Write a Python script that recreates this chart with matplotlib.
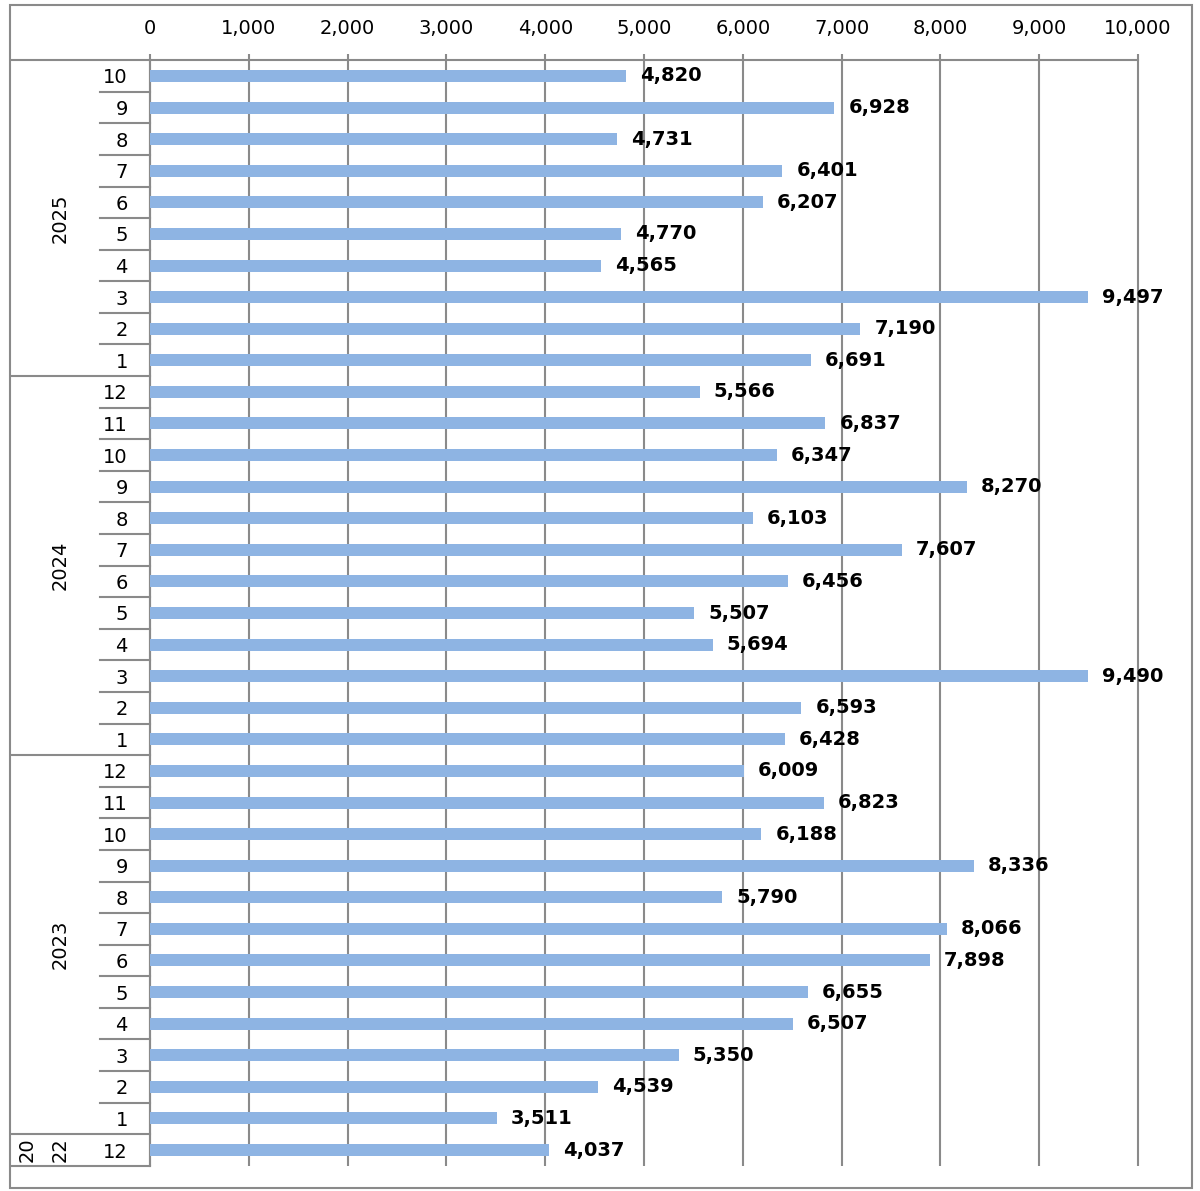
import matplotlib.pyplot as plt
from matplotlib.patches import Rectangle

# months, oldest first (bottom of chart)
years = ['2022', '2023', '2024', '2025']
months_2022 = [12]
months_2023 = list(range(1, 13))
months_2024 = list(range(1, 13))
months_2025 = list(range(1, 11))

vals_2022 = [4037]
vals_2023 = [3511, 4539, 5350, 6507, 6655, 7898, 8066, 5790, 8336, 6188, 6823, 6009]
vals_2024 = [6428, 6593, 9490, 5694, 5507, 6456, 7607, 6103, 8270, 6347, 6837, 5566]
vals_2025 = [6691, 7190, 9497, 4565, 4770, 6207, 6401, 4731, 6928, 4820]

xticks = list(range(0, 10001, 1000))

months = months_2022 + months_2023 + months_2024 + months_2025
values = vals_2022 + vals_2023 + vals_2024 + vals_2025
group_sizes = [len(months_2022), len(months_2023), len(months_2024), len(months_2025)]

GRAY = '#8a8a8a'
BAR = '#8eb4e3'

fig = plt.figure(figsize=(12, 11.91), dpi=100)
ax = fig.add_axes([150 / 1200, 1 - 1165.8 / 1191, 988 / 1200, (1165.8 - 60.2) / 1191])

# outer frame
fig.patches.append(Rectangle((10 / 1200, 1 - 1188 / 1191), 1182 / 1200, 1183 / 1191,
                             transform=fig.transFigure, fill=False,
                             edgecolor=GRAY, linewidth=1.5))

y = list(range(len(values)))
ax.barh(y, values, height=0.38, color=BAR, zorder=3)
for yi, v in zip(y, values):
    ax.annotate(f'{v:,}', (v, yi), xytext=(10, 0), textcoords='offset points',
                va='center', ha='left', fontsize=14, fontweight='bold', zorder=4)

ax.set_xlim(0, 10000)
ax.set_ylim(-0.5, len(values) - 0.5)
ax.xaxis.tick_top()
ax.set_xticks(xticks)
ax.set_xticklabels([f'{t:,}' for t in xticks])
ax.tick_params(axis='x', length=4, width=1.5, color=GRAY, pad=12, labelsize=14)
ax.set_yticks(y)
ax.set_yticklabels([str(m) for m in months])
ax.tick_params(axis='y', length=0, pad=16, labelsize=14)

# vertical gridlines (unclipped so the 10,000 line shows fully)
ax.vlines(xticks, -0.5, len(values) - 0.5, color=GRAY, linewidth=1.5,
          zorder=1, clip_on=False)
for side in ['right', 'bottom']:
    ax.spines[side].set_visible(False)
for side in ['top', 'left']:
    ax.spines[side].set_color(GRAY)
    ax.spines[side].set_linewidth(1.5)

# category separators on the left
tr = ax.get_yaxis_transform()
short_x = (100 - 150) / 988
long_x = (12 - 150) / 988
bounds = [-0.5]
s = -0.5
for g in group_sizes:
    s += g
    bounds.append(s)
for b in [i - 0.5 for i in range(len(values) + 1)]:
    x0 = long_x if b in bounds else short_x
    ax.plot([x0, 0], [b, b], transform=tr, color=GRAY, lw=1.5, clip_on=False)

# year labels
start = 0
for yr, g in zip(years, group_sizes):
    mid = start + (g - 1) / 2
    if g == 1:
        ax.text((27 - 150) / 988, mid, yr[:2], transform=tr, rotation=90,
                ha='center', va='center', fontsize=14)
        ax.text((60 - 150) / 988, mid, yr[2:], transform=tr, rotation=90,
                ha='center', va='center', fontsize=14)
    else:
        ax.text((60 - 150) / 988, mid, yr, transform=tr, rotation=90,
                ha='center', va='center', fontsize=14)
    start += g

fig.savefig('out.png', dpi=100)
